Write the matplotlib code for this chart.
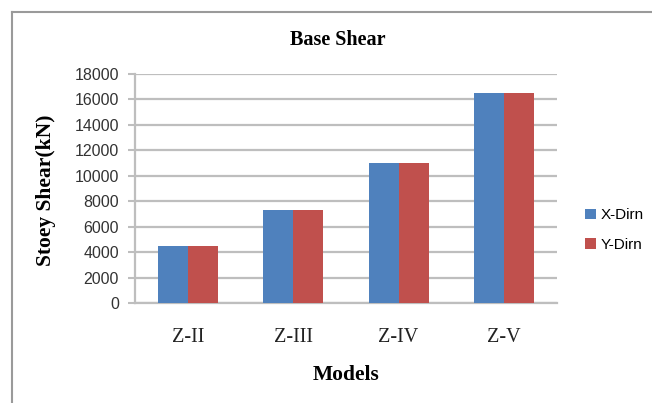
import matplotlib
matplotlib.use("Agg")
import numpy as np
from matplotlib import pyplot as plt
from matplotlib.lines import Line2D

models = ["Z-II", "Z-III", "Z-IV", "Z-V"]
x_dirn = [4500, 7300, 11000, 16500]
y_dirn = [4500, 7300, 11000, 16500]
y_ticks = list(range(0, 18001, 2000))

blue = "#4F81BD"
red = "#C0504D"
grid_col = "#BEBEBE"

fig = plt.figure(figsize=(6.52, 4.03), dpi=100)
fig.patch.set_facecolor("white")
ax = fig.add_axes([0.207, 0.2474, 0.647, 0.569])

# outer chart frame (only top and left edge visible)
fig.add_artist(Line2D([0.018, 1.0], [0.969, 0.969], transform=fig.transFigure, color="#9A9A9A", lw=1.5))
fig.add_artist(Line2D([0.018, 0.018], [0.0, 0.969], transform=fig.transFigure, color="#9A9A9A", lw=1.5))

pos = np.arange(len(models))
w = 0.284
ax.bar(pos - w / 2, x_dirn, w, color=blue, label="X-Dirn", zorder=3)
ax.bar(pos + w / 2, y_dirn, w, color=red, label="Y-Dirn", zorder=3)

ax.set_xlim(-0.5, len(models) - 0.5)
ax.set_ylim(0, 18000)
ax.set_yticks(y_ticks)
ax.set_yticklabels([str(v) for v in y_ticks], fontfamily="Liberation Sans", fontsize=11.5, color="#333333")
ax.set_xticks(pos)
ax.set_xticklabels(models, fontfamily="Liberation Serif", fontsize=14.5, color="#222222")
ax.tick_params(axis="x", length=0, pad=18)
ax.tick_params(axis="y", length=5, width=1.5, color=grid_col, pad=6.5)

ax.grid(axis="y", color=grid_col, lw=1.6, zorder=0)
for side in ["top", "right"]:
    ax.spines[side].set_visible(False)
ax.spines["left"].set_color(grid_col)
ax.spines["left"].set_linewidth(1.6)
ax.spines["bottom"].set_color(grid_col)
ax.spines["bottom"].set_linewidth(1.6)

fig.text(0.518, 0.90, "Base Shear", ha="center", va="center",
         fontfamily="Liberation Serif", fontweight="bold", fontsize=14.5)
fig.text(0.531, 0.07, "Models", ha="center", va="center",
         fontfamily="Liberation Serif", fontweight="bold", fontsize=15.5)
fig.text(0.07, 0.528, "Stoey Shear(kN)", ha="center", va="center", rotation=90,
         fontfamily="Liberation Serif", fontweight="bold", fontsize=15.5)

ax.legend(loc="center left", bbox_to_anchor=(1.035, 0.32), frameon=False,
          prop={"family": "Liberation Sans", "size": 11},
          handlelength=0.7, handleheight=0.7, handletextpad=0.3, labelspacing=1.0)

fig.savefig("out.png", dpi=100)
